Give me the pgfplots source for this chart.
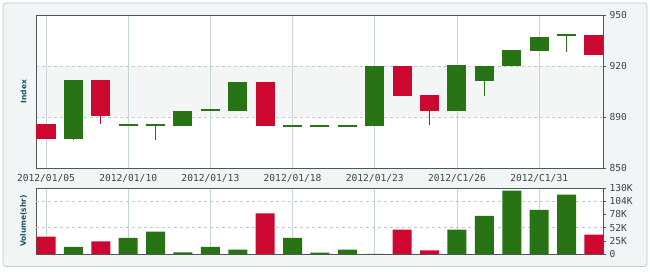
\documentclass[border=0pt]{standalone}
\usepackage{pgfplots}
\usepackage{pgfplotstable}
\pgfplotsset{compat=1.18}
\usepackage{fontspec}
\setmainfont{DejaVu Sans}
\newfontfamily\tickfont{DejaVu Sans Mono}
\definecolor{cred}{RGB}{204,8,48}
\definecolor{cgreen}{RGB}{40,116,20}
\definecolor{bgpanel}{RGB}{241,245,245}
\definecolor{bordergray}{RGB}{192,202,202}
\definecolor{framegray}{RGB}{80,86,86}
\definecolor{vgrid}{RGB}{196,214,218}
\definecolor{hgrid}{RGB}{196,202,202}
\definecolor{bandgray}{RGB}{244,246,246}
\definecolor{labteal}{RGB}{28,82,96}
\definecolor{ticktext}{RGB}{60,68,68}
% candles: x, low, body bottom, body top, high
\pgfplotstableread{
x lo bot top hi
0 869.0 869.0 878.8 878.8
2 878.8 884.0 907.5 907.5
8 877.5 877.5 906.2 906.2
13 897.1 897.1 916.7 916.7
14 878.1 887.3 897.7 897.7
20 923.9 923.9 936.9 936.9
}\redc
\pgfplotstableread{
x lo bot top hi
1 868.6 869.0 907.5 907.5
3 878.1 877.5 878.7 878.7
4 868.3 877.5 878.7 878.7
5 877.5 877.5 887.3 887.3
6 887.9 887.3 888.5 888.5
7 887.3 887.3 906.2 906.2
9 877.5 876.9 878.1 878.1
10 877.5 876.9 878.1 878.1
11 877.5 876.9 878.1 878.1
12 877.5 877.5 916.7 916.7
15 887.3 887.3 917.3 917.3
16 897.1 906.9 916.7 916.7
17 916.7 916.7 927.1 927.1
18 926.5 926.5 935.6 935.6
19 925.8 936.3 937.5 937.5
}\greenc
\pgfplotsset{
  panel/.style={
    scale only axis, width=567pt, xmin=-0.365, xmax=20.33,
    axis line style={framegray, line width=0.8pt},
    xtick={0,3,6,9,12,15,18},
    xtick style={draw=none},
    xmajorgrids, x grid style={vgrid, line width=0.8pt},
    y grid style={hgrid, dashed, line width=0.6pt},
    ytick pos=right, yticklabel pos=right, tick align=outside,
    ytick style={framegray, line width=0.6pt}, major tick length=3pt,
    ticklabel style={font=\tickfont\fontsize{9.6}{10}\selectfont, text=ticktext},
    every axis y label/.style={at={(axis description cs:0,0.5)}, xshift=-12.5pt, rotate=90, anchor=center,
      font=\bfseries\fontsize{7.5}{8}\selectfont, text=labteal},
    clip=true,
  },
  wick/.style={draw=none, no markers, forget plot,
    error bars/.cd, y dir=plus, y explicit, error mark=none,
    error bar style={draw=#1, solid, line width=1pt}},
  body/.style={draw=none, no markers, forget plot,
    error bars/.cd, y dir=plus, y explicit, error mark=none,
    error bar style={draw=#1, solid, line width=19pt}},
}
\begin{document}
\begin{tikzpicture}
\useasboundingbox (0,0) rectangle (650pt,271pt);
\draw[rounded corners=3pt, draw=bordergray, fill=bgpanel, line width=0.8pt] (3pt,4.5pt) rectangle (647pt,268pt);
% plot-area backgrounds
\fill[white] (36pt,103pt) rectangle (603pt,256pt);
\fill[bandgray] (36pt,154pt) rectangle (603pt,205pt);
\fill[white] (36pt,17pt) rectangle (603pt,83pt);
% ---------------- price panel ----------------
\begin{axis}[panel, at={(36pt,103pt)}, anchor=south west, height=153pt,
  ymin=850, ymax=950,
  ytick={850,883.333,916.667,950}, yticklabels={850,890,920,950},
  ymajorgrids,
  xticklabels={2012/01/05,2012/01/10,2012/01/13,2012/01/18,2012/01/23,2012/C1/26,2012/C1/31},
  ylabel={Index},
]
\addplot[wick=cred] table[x=x, y=lo, y error expr=\thisrow{hi}-\thisrow{lo}] {\redc};
\addplot[wick=cgreen] table[x=x, y=lo, y error expr=\thisrow{hi}-\thisrow{lo}] {\greenc};
\addplot[body=cred] table[x=x, y=bot, y error expr=\thisrow{top}-\thisrow{bot}] {\redc};
\addplot[body=cgreen] table[x=x, y=bot, y error expr=\thisrow{top}-\thisrow{bot}] {\greenc};
\end{axis}
% ---------------- volume panel ----------------
\begin{axis}[panel, at={(36pt,17pt)}, anchor=south west, height=66pt,
  ymin=0, ymax=130,
  ytick={0,26,52,78,104,130}, yticklabels={0,25K,52K,78K,104K,130K},
  extra y ticks={52,104}, extra y tick labels={},
  extra y tick style={ymajorgrids=true, major tick length=0pt},
  xticklabels={},
  ylabel={Volume(shr)},
  ybar, bar width=19pt, bar shift=0pt,
]
\addplot[draw=none, fill=cred] coordinates {(0,34) (2,25) (8,80) (13,48) (14,7) (20,38)};
\addplot[draw=none, fill=cgreen] coordinates {(1,14) (3,32) (4,44) (5,3) (6,14) (7,8.5) (9,32) (10,2.5) (11,8.5) (12,0.4) (15,48) (16,75) (17,125) (18,87) (19,117)};
\end{axis}
\end{tikzpicture}
\end{document}
